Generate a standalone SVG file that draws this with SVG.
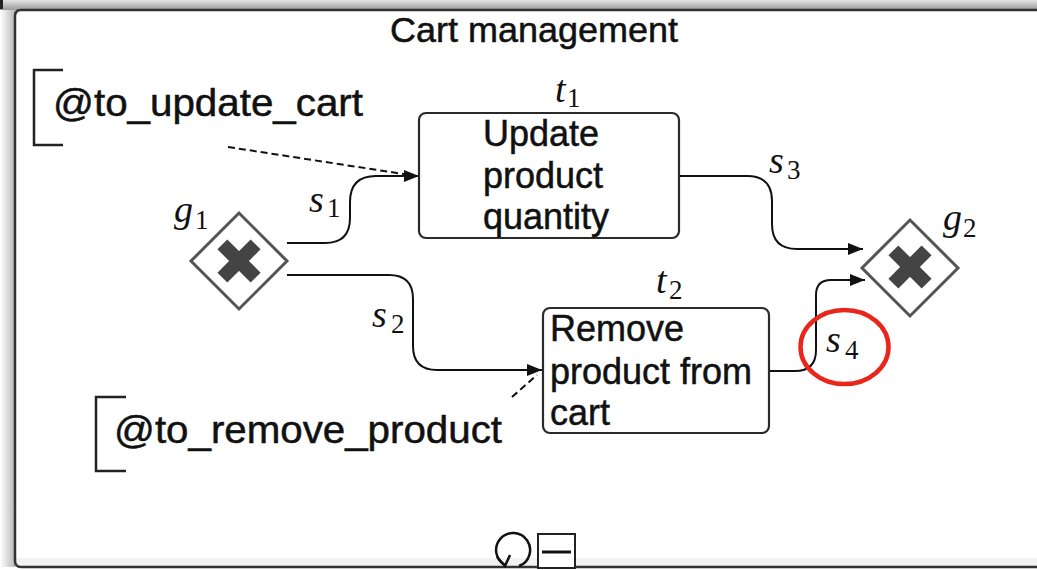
<svg xmlns="http://www.w3.org/2000/svg" width="1037" height="570" viewBox="0 0 1037 570">
<defs>
<linearGradient id="topShade" x1="0" y1="0" x2="0" y2="1">
<stop offset="0" stop-color="#e4e4e4"/>
<stop offset="1" stop-color="#9a9a9a"/>
</linearGradient>
<linearGradient id="leftShade" x1="0" y1="0" x2="1" y2="0">
<stop offset="0" stop-color="#ffffff"/>
<stop offset="1" stop-color="#b8b8b8"/>
</linearGradient>
<marker id="arrow" markerUnits="userSpaceOnUse" markerWidth="16" markerHeight="12" refX="15" refY="6" orient="auto">
<path d="M0,0 L15,6 L0,12 Z" fill="#111"/>
</marker>
</defs>
<style>
.frame{fill:none;stroke:#333;stroke-width:2.5}
.task{fill:#fff;stroke:#2a2a2a;stroke-width:2.2}
.gw{fill:#fff;stroke:#555;stroke-width:3}
.cross{fill:#444}
.flow{fill:none;stroke:#111;stroke-width:2}
.assoc{fill:none;stroke:#111;stroke-width:2;stroke-dasharray:7 4}
.bracket{fill:none;stroke:#222;stroke-width:2.5}
.lbl{font-family:"Liberation Sans",Arial,sans-serif;fill:#111;stroke:#111;stroke-width:0.5}
.mi{font-family:"Liberation Serif","Times New Roman",serif;font-style:italic;font-size:38px;fill:#111}
.sub{font-family:"Liberation Serif","Times New Roman",serif;font-style:normal;font-size:27px;fill:#111}
.hl{fill:none;stroke:#e8261c;stroke-width:4.5}
</style>
<rect x="0" y="0" width="1037" height="570" fill="#fff"/>
<rect x="0" y="0" width="1037" height="10" fill="url(#topShade)"/>
<rect x="0" y="10" width="15" height="557" fill="url(#leftShade)"/>
<rect x="0" y="0" width="3" height="9" fill="#222"/>
<rect x="15" y="558" width="1022" height="9" fill="#f2f2f2"/>
<path class="frame" d="M1037,10 H21 Q15,10 15,16 V561 Q15,567 21,567 H1037"/>
<text class="lbl" x="534" y="42" font-size="35" text-anchor="middle" textLength="288" lengthAdjust="spacingAndGlyphs">Cart management</text>

<g id="connectors">
<path id="s1" class="flow" d="M287,243 H325 Q350,243 350,218 V202 Q350,176 376,176 H419" marker-end="url(#arrow)"/>
<path id="s2" class="flow" d="M287,275 H389 Q413,275 413,299 V346 Q413,370 437,370 H542" marker-end="url(#arrow)"/>
<path id="s3" class="flow" d="M679,176 H747 Q772,176 772,201 V224 Q772,249 797,249 H863" marker-end="url(#arrow)"/>
<path id="s4" class="flow" d="M769,371 H795 Q816,371 816,350 V295 Q816,280 831,280 H865" marker-end="url(#arrow)"/>
<path id="a1" class="assoc" d="M228,147 L410,175"/>
<path id="a2" class="assoc" d="M512,397 L537,375"/>
</g>

<g id="ann1">
<path class="bracket" d="M63,70 H34 V145 H63"/>
<text class="lbl" x="53" y="116" font-size="38" textLength="310" lengthAdjust="spacingAndGlyphs">@to_update_cart</text>
</g>
<g id="ann2">
<path class="bracket" d="M126,397 H96 V471 H126"/>
<text class="lbl" x="114" y="443" font-size="38" textLength="388" lengthAdjust="spacingAndGlyphs">@to_remove_product</text>
</g>

<g id="t1">
<rect class="task" x="419" y="113" width="260" height="125" rx="7"/>
<text class="lbl" font-size="36"><tspan x="483" y="146">Update</tspan><tspan x="483" y="188">product</tspan><tspan x="483" y="229">quantity</tspan></text>
<text><tspan class="mi" x="555" y="102">t</tspan><tspan class="sub" x="567" y="107">1</tspan></text>
</g>

<g id="t2">
<rect class="task" x="543" y="308" width="226" height="125" rx="7"/>
<text class="lbl" font-size="36"><tspan x="550" y="341">Remove</tspan><tspan x="550" y="384">product from</tspan><tspan x="550" y="425">cart</tspan></text>
<text><tspan class="mi" x="656" y="293">t</tspan><tspan class="sub" x="669" y="299">2</tspan></text>
</g>

<g id="g1">
<path class="gw" d="M239,213 L287,261 L239,309 L191,261 Z"/>
<g transform="translate(239,261)">
<rect class="cross" x="-23.5" y="-7" width="47" height="14" transform="rotate(45)"/>
<rect class="cross" x="-23.5" y="-7" width="47" height="14" transform="rotate(-45)"/>
</g>
<text><tspan class="mi" x="174" y="222">g</tspan><tspan class="sub" x="195" y="229">1</tspan></text>
</g>

<g id="g2">
<path class="gw" d="M910,220 L958,268 L910,316 L862,268 Z"/>
<g transform="translate(910,267)">
<rect class="cross" x="-23.5" y="-7" width="47" height="14" transform="rotate(45)"/>
<rect class="cross" x="-23.5" y="-7" width="47" height="14" transform="rotate(-45)"/>
</g>
<text><tspan class="mi" x="943" y="230">g</tspan><tspan class="sub" x="963" y="237">2</tspan></text>
</g>

<g id="labels">
<text><tspan class="mi" x="309" y="212">s</tspan><tspan class="sub" x="327" y="217">1</tspan></text>
<text><tspan class="mi" x="372" y="327">s</tspan><tspan class="sub" x="391" y="333">2</tspan></text>
<text><tspan class="mi" x="769" y="173">s</tspan><tspan class="sub" x="787" y="179">3</tspan></text>
<text><tspan class="mi" x="826" y="352">s</tspan><tspan class="sub" x="845" y="359">4</tspan></text>
</g>

<ellipse class="hl" cx="844.5" cy="347" rx="44" ry="37"/>

<g id="markers">
<path d="M505,565 A17,17 0 1 1 519,566" fill="none" stroke="#111" stroke-width="2.5"/>
<path d="M497,557 L505,566 L510,555" fill="none" stroke="#111" stroke-width="2.5"/>
<rect x="538" y="534" width="37" height="34" fill="#fff" stroke="#222" stroke-width="2"/>
<line x1="542" y1="552" x2="571" y2="552" stroke="#111" stroke-width="3"/>
</g>
</svg>
